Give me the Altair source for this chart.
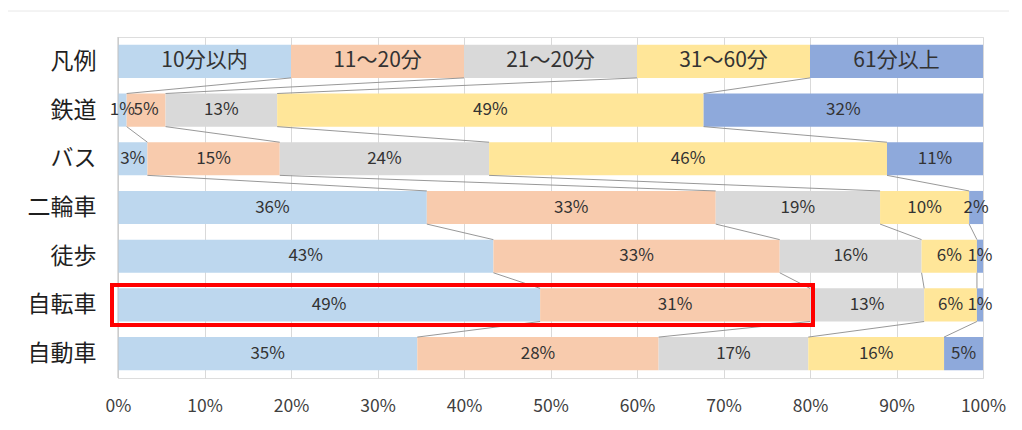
import json
import altair as alt
import pandas as pd

# ---- data ----
rows = ["凡例", "鉄道", "バス", "二輪車", "徒歩", "自転車", "自動車"]
series = ["10分以内", "11～20分", "21～20分", "31～60分", "61分以上"]

s_10 = [20, 1.0, 3.4, 35.7, 43.4, 48.8, 34.6]
s_20 = [20, 4.5, 15.3, 33.4, 33.1, 31.2, 27.9]
s_30 = [20, 12.9, 24.2, 19.0, 16.4, 13.2, 17.3]
s_60 = [20, 49.3, 46.0, 10.3, 6.4, 6.1, 15.7]
s_61 = [20, 32.3, 11.1, 1.6, 0.7, 0.7, 4.5]

lab_10 = ["10分以内", "1%", "3%", "36%", "43%", "49%", "35%"]
lab_20 = ["11～20分", "5%", "15%", "33%", "33%", "31%", "28%"]
lab_30 = ["21～20分", "13%", "24%", "19%", "16%", "13%", "17%"]
lab_60 = ["31～60分", "49%", "46%", "10%", "6%", "6%", "16%"]
lab_61 = ["61分以上", "32%", "11%", "2%", "1%", "1%", "5%"]

highlight_row = "自転車"
highlight_series = 2  # first two series boxed

colors = ["#BDD7EE", "#F8CBAD", "#D9D9D9", "#FFE699", "#8EA9DB"]

# ---- build tables ----
vals = [s_10, s_20, s_30, s_60, s_61]
labs = [lab_10, lab_20, lab_30, lab_60, lab_61]
HALF = 0.34

recs = []
cums = []
for i, r in enumerate(rows):
    cum = 0.0
    c = [0.0]
    for j, s in enumerate(series):
        v = vals[j][i]
        recs.append(dict(row=r, r=i, series=s, x0=cum, x1=cum + v,
                         xm=cum + v / 2, label=labs[j][i],
                         yt=i - HALF, yb=i + HALF, legend=(i == 0)))
        cum += v
        c.append(cum)
    cums.append(c)
df = pd.DataFrame(recs)

conn = []
for i in range(len(rows) - 1):
    for k in range(1, len(series)):
        conn.append(dict(xa=cums[i][k], xb=cums[i + 1][k],
                         ya=i + HALF, yb=i + 1 - HALF))
dconn = pd.DataFrame(conn)

hi = rows.index(highlight_row)
dhi = pd.DataFrame([dict(x0=0, x1=cums[hi][highlight_series],
                         yt=hi - 0.41, yb=hi + 0.41)])

FONT = "Noto Sans CJK JP"
xscale = alt.Scale(domain=[0, 100], nice=False)
yscale = alt.Scale(domain=[-0.5, len(rows) - 0.5], nice=False, reverse=True, zero=False)

label_expr = json.dumps(rows, ensure_ascii=False) + "[datum.value]"

bars = alt.Chart(df).mark_rect().encode(
    x=alt.X("x0:Q", scale=xscale,
            axis=alt.Axis(values=list(range(0, 101, 10)), labelExpr="datum.value + '%'",
                          grid=True, gridColor="#D9D9D9", domain=False, ticks=False,
                          tickSize=0, labelPadding=19, labelFontSize=17.5, labelFlush=False,
                          labelColor="#404040", labelFont=FONT, title=None)),
    x2="x1:Q",
    y=alt.Y("yt:Q", scale=yscale,
            axis=alt.Axis(values=list(range(len(rows))), labelExpr=label_expr,
                          grid=False, domain=False, ticks=False, tickSize=0,
                          labelPadding=22, labelFontSize=23, labelColor="#1F1F1F",
                          labelFont=FONT, title=None)),
    y2="yb:Q",
    color=alt.Color("series:N", scale=alt.Scale(domain=series, range=colors), legend=None),
)

zero_line = alt.Chart(pd.DataFrame({"v": [0]})).mark_rule(color="#BFBFBF", strokeWidth=1).encode(
    x=alt.X("v:Q", scale=xscale)
)

connectors = alt.Chart(dconn).mark_rule(color="#8C8C8C", strokeWidth=0.9).encode(
    x=alt.X("xa:Q", scale=xscale), x2="xb:Q",
    y=alt.Y("ya:Q", scale=yscale), y2="yb:Q",
)

texts = alt.Chart(df[~df["legend"]]).mark_text(
    font=FONT, fontSize=17, color="#333333", baseline="middle", align="center"
).encode(
    x=alt.X("xm:Q", scale=xscale), y=alt.Y("r:Q", scale=yscale), text="label:N"
)

leg_texts = alt.Chart(df[df["legend"]]).mark_text(
    font=FONT, fontSize=21, color="#333333", baseline="middle", align="center"
).encode(
    x=alt.X("xm:Q", scale=xscale), y=alt.Y("r:Q", scale=yscale), text="label:N"
)

box = alt.Chart(dhi).mark_rect(
    fill=None, fillOpacity=0, stroke="#FF0000", strokeWidth=4, xOffset=-6, x2Offset=3
).encode(
    x=alt.X("x0:Q", scale=xscale), x2="x1:Q",
    y=alt.Y("yt:Q", scale=yscale), y2="yb:Q",
)

frame = alt.Chart(pd.DataFrame({"a": [0]})).mark_rule(color="#E8E8E8", strokeWidth=1).encode(
    x=alt.value(-110), x2=alt.value(895), y=alt.value(-26)
)

chart = alt.layer(frame, bars, zero_line, connectors, texts, leg_texts, box).properties(
    width=865, height=341,
    autosize=alt.AutoSizeParams(type="none"),
    padding={"left": 110, "top": 29, "right": 26, "bottom": 40},
).configure_view(stroke=None).configure(background="white")

chart.save("out.html", embed_options={"renderer": "svg", "actions": False})
